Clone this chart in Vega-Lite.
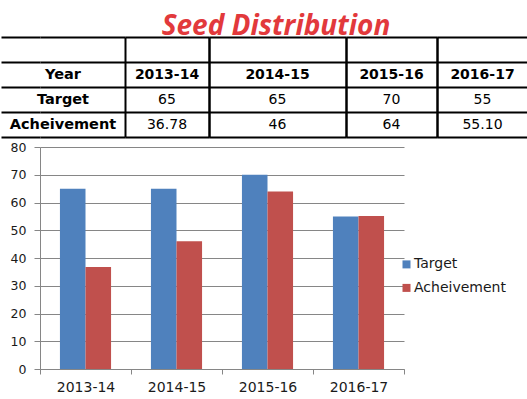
{
  "$schema": "https://vega.github.io/schema/vega-lite/v6.json",
  "padding": {"top": 13, "left": 0, "right": 0, "bottom": 0},
  "background": "white",
  "title": {"text": "Seed Distribution", "font": "Open Sans", "fontSize": 28, "fontWeight": "bold", "fontStyle": "italic", "color": "#E2393C", "anchor": "middle", "offset": -5, "dx": 12},
  "datasets": {
    "table": [
      {"col": "label", "row": "Year", "text": "Year"},
      {"col": "label", "row": "Target", "text": "Target"},
      {"col": "label", "row": "Acheivement", "text": "Acheivement"},
      {"col": "2013-14", "row": "Year", "text": "2013-14"},
      {"col": "2013-14", "row": "Target", "text": "65"},
      {"col": "2013-14", "row": "Acheivement", "text": "36.78"},
      {"col": "2014-15", "row": "Year", "text": "2014-15"},
      {"col": "2014-15", "row": "Target", "text": "65"},
      {"col": "2014-15", "row": "Acheivement", "text": "46"},
      {"col": "2015-16", "row": "Year", "text": "2015-16"},
      {"col": "2015-16", "row": "Target", "text": "70"},
      {"col": "2015-16", "row": "Acheivement", "text": "64"},
      {"col": "2016-17", "row": "Year", "text": "2016-17"},
      {"col": "2016-17", "row": "Target", "text": "55"},
      {"col": "2016-17", "row": "Acheivement", "text": "55.10"}
    ],
    "chart": [
      {"year": "2013-14", "series": "Target", "value": 65},
      {"year": "2013-14", "series": "Acheivement", "value": 36.78},
      {"year": "2014-15", "series": "Target", "value": 65},
      {"year": "2014-15", "series": "Acheivement", "value": 46},
      {"year": "2015-16", "series": "Target", "value": 70},
      {"year": "2015-16", "series": "Acheivement", "value": 64},
      {"year": "2016-17", "series": "Target", "value": 55},
      {"year": "2016-17", "series": "Acheivement", "value": 55.1}
    ]
  },
  "spacing": 3,
  "vconcat": [
    {
      "spacing": 0,
      "hconcat": [
        {
          "width": 85, "height": 100,
          "data": {"name": "table"},
          "transform": [{"filter": "datum.col === 'label'"}],
          "encoding": {
            "y": {"field": "row", "type": "nominal", "sort": null, "scale": {"domain": ["blank", "Year", "Target", "Acheivement"], "paddingInner": 0, "paddingOuter": 0}, "axis": {"grid": true, "tickBand": "extent", "labels": false, "ticks": true, "tickSize": 39, "tickWidth": 2, "tickColor": "black", "tickOpacity": 1, "domain": false, "title": null, "gridColor": "black", "gridWidth": 2, "gridOpacity": 1, "minExtent": 39, "maxExtent": 39}},
            "text": {"field": "text"}
          },
          "mark": {"type": "text", "font": "DejaVu Sans", "fontSize": 14.5, "fontWeight": "bold", "color": "black", "dx": -19.5}
        },
        {
          "width": 84, "height": 100,
          "data": {"name": "table"},
          "transform": [{"filter": "datum.col === '2013-14'"}],
          "encoding": {
            "x": {"field": "col", "type": "nominal", "scale": {"paddingInner": 0, "paddingOuter": 0}, "axis": {"grid": true, "tickBand": "extent", "labels": false, "ticks": false, "domain": false, "title": null, "gridColor": "black", "gridWidth": 2, "gridOpacity": 1, "minExtent": 0, "maxExtent": 0}},
            "y": {"field": "row", "type": "nominal", "sort": null, "scale": {"domain": ["blank", "Year", "Target", "Acheivement"], "paddingInner": 0, "paddingOuter": 0}, "axis": {"grid": true, "tickBand": "extent", "labels": false, "ticks": false, "domain": false, "title": null, "gridColor": "black", "gridWidth": 2, "gridOpacity": 1, "minExtent": 0, "maxExtent": 0}},
            "text": {"field": "text"}
          },
          "layer": [
            {"transform": [{"filter": "datum.row === 'Year'"}], "mark": {"type": "text", "font": "DejaVu Sans", "fontSize": 14, "fontWeight": "bold", "color": "black"}},
            {"transform": [{"filter": "datum.row !== 'Year'"}], "mark": {"type": "text", "font": "DejaVu Sans", "fontSize": 14, "color": "black"}}
          ]
        },
        {
          "width": 137, "height": 100,
          "data": {"name": "table"},
          "transform": [{"filter": "datum.col === '2014-15'"}],
          "encoding": {
            "x": {"field": "col", "type": "nominal", "scale": {"paddingInner": 0, "paddingOuter": 0}, "axis": {"grid": true, "tickBand": "extent", "labels": false, "ticks": false, "domain": false, "title": null, "gridColor": "black", "gridWidth": 2, "gridOpacity": 1, "minExtent": 0, "maxExtent": 0}},
            "y": {"field": "row", "type": "nominal", "sort": null, "scale": {"domain": ["blank", "Year", "Target", "Acheivement"], "paddingInner": 0, "paddingOuter": 0}, "axis": {"grid": true, "tickBand": "extent", "labels": false, "ticks": false, "domain": false, "title": null, "gridColor": "black", "gridWidth": 2, "gridOpacity": 1, "minExtent": 0, "maxExtent": 0}},
            "text": {"field": "text"}
          },
          "layer": [
            {"transform": [{"filter": "datum.row === 'Year'"}], "mark": {"type": "text", "font": "DejaVu Sans", "fontSize": 14, "fontWeight": "bold", "color": "black"}},
            {"transform": [{"filter": "datum.row !== 'Year'"}], "mark": {"type": "text", "font": "DejaVu Sans", "fontSize": 14, "color": "black"}}
          ]
        },
        {
          "width": 91, "height": 100,
          "data": {"name": "table"},
          "transform": [{"filter": "datum.col === '2015-16'"}],
          "encoding": {
            "x": {"field": "col", "type": "nominal", "scale": {"paddingInner": 0, "paddingOuter": 0}, "axis": {"grid": true, "tickBand": "extent", "labels": false, "ticks": false, "domain": false, "title": null, "gridColor": "black", "gridWidth": 2, "gridOpacity": 1, "minExtent": 0, "maxExtent": 0}},
            "y": {"field": "row", "type": "nominal", "sort": null, "scale": {"domain": ["blank", "Year", "Target", "Acheivement"], "paddingInner": 0, "paddingOuter": 0}, "axis": {"grid": true, "tickBand": "extent", "labels": false, "ticks": false, "domain": false, "title": null, "gridColor": "black", "gridWidth": 2, "gridOpacity": 1, "minExtent": 0, "maxExtent": 0}},
            "text": {"field": "text"}
          },
          "layer": [
            {"transform": [{"filter": "datum.row === 'Year'"}], "mark": {"type": "text", "font": "DejaVu Sans", "fontSize": 14, "fontWeight": "bold", "color": "black"}},
            {"transform": [{"filter": "datum.row !== 'Year'"}], "mark": {"type": "text", "font": "DejaVu Sans", "fontSize": 14, "color": "black"}}
          ]
        },
        {
          "width": 91, "height": 100,
          "data": {"name": "table"},
          "transform": [{"filter": "datum.col === '2016-17'"}],
          "encoding": {
            "x": {"field": "col", "type": "nominal", "scale": {"paddingInner": 0, "paddingOuter": 0}, "axis": {"grid": true, "tickBand": "extent", "labels": false, "ticks": false, "domain": false, "title": null, "gridColor": "black", "gridWidth": 2, "gridOpacity": 1, "minExtent": 0, "maxExtent": 0}},
            "y": {"field": "row", "type": "nominal", "sort": null, "scale": {"domain": ["blank", "Year", "Target", "Acheivement"], "paddingInner": 0, "paddingOuter": 0}, "axis": {"grid": true, "tickBand": "extent", "labels": false, "ticks": false, "domain": false, "title": null, "gridColor": "black", "gridWidth": 2, "gridOpacity": 1, "minExtent": 0, "maxExtent": 0}},
            "text": {"field": "text"}
          },
          "layer": [
            {"transform": [{"filter": "datum.row === 'Year'"}], "mark": {"type": "text", "font": "DejaVu Sans", "fontSize": 14, "fontWeight": "bold", "color": "black"}},
            {"transform": [{"filter": "datum.row !== 'Year'"}], "mark": {"type": "text", "font": "DejaVu Sans", "fontSize": 14, "color": "black"}}
          ]
        }
      ]
    },
    {
      "spacing": -4,
      "hconcat": [
        {
          "width": 364, "height": 222,
          "data": {"name": "chart"},
          "mark": {"type": "bar"},
          "encoding": {
            "x": {"field": "year", "type": "nominal", "sort": null, "scale": {"paddingInner": 0, "paddingOuter": 0},
                  "axis": {"title": null, "labelAngle": 0, "tickBand": "extent", "grid": false, "domainColor": "#868686", "tickColor": "#868686", "tickSize": 5, "labelFont": "DejaVu Sans", "labelFontSize": 14, "labelColor": "#1a1a1a", "labelPadding": 6}},
            "xOffset": {"field": "series", "type": "nominal", "sort": ["Target", "Acheivement"], "scale": {"paddingInner": 0, "paddingOuter": 0.78}},
            "y": {"field": "value", "type": "quantitative", "scale": {"domain": [0, 80]},
                  "axis": {"title": null, "values": [0, 10, 20, 30, 40, 50, 60, 70, 80], "grid": true, "gridColor": "#868686", "gridOpacity": 1, "domainColor": "#868686", "tickColor": "#868686", "tickSize": 6, "labelFont": "DejaVu Sans", "labelFontSize": 12.5, "labelColor": "#1a1a1a", "labelPadding": 8, "minExtent": 39, "maxExtent": 39}},
            "color": {"field": "series", "type": "nominal", "sort": ["Target", "Acheivement"], "scale": {"domain": ["Target", "Acheivement"], "range": ["#4F81BD", "#C0504D"]}, "legend": null}
          }
        },
        {
          "width": 3, "height": 222,
          "data": {"name": "chart"},
          "transform": [{"aggregate": [{"op": "count", "as": "n"}], "groupby": ["series"]}],
          "encoding": {
            "y": {"field": "series", "type": "nominal", "sort": ["Target", "Acheivement"], "scale": {"type": "point", "padding": 0, "range": [117.4, 140.9]}, "axis": null}
          },
          "layer": [
            {"mark": {"type": "point", "shape": "square", "filled": true, "size": 64, "opacity": 1},
             "encoding": {"color": {"field": "series", "type": "nominal", "scale": {"domain": ["Target", "Acheivement"], "range": ["#4F81BD", "#C0504D"]}, "legend": null}}},
            {"mark": {"type": "text", "align": "left", "baseline": "middle", "font": "DejaVu Sans", "fontSize": 14, "color": "#1a1a1a", "dx": 7.5},
             "encoding": {"text": {"field": "series"}}}
          ]
        }
      ]
    }
  ],
  "config": {"view": {"stroke": null}}
}
